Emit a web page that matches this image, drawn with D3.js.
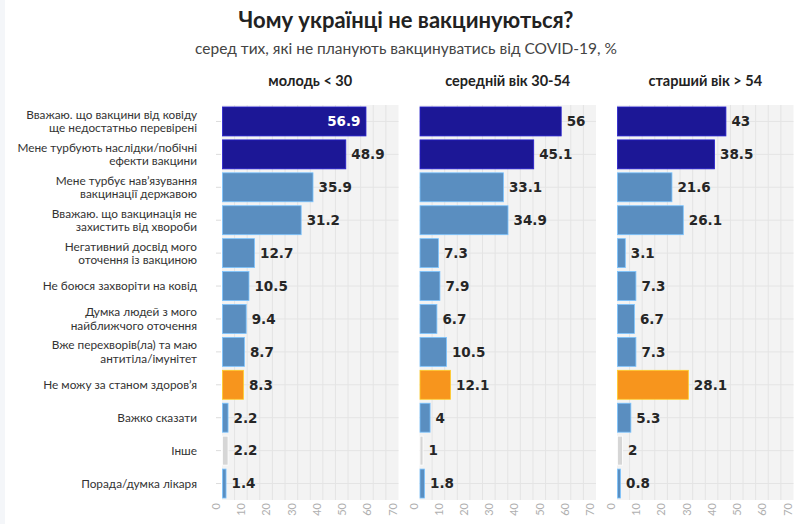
<!DOCTYPE html>
<html>
<head>
<meta charset="utf-8">
<script src="https://cdn.jsdelivr.net/npm/d3@7"></script>
<style>
  html, body { margin: 0; padding: 0; background: #ffffff; }
  svg { display: block; }
</style>
</head>
<body>
<svg id="chart" width="800" height="524"></svg>
<script>
// ---- data ----
const title = "Чому українці не вакцинуються?";
const subtitle = "серед тих, які не планують вакцинуватись від COVID-19, %";
const groups = ["молодь < 30", "середній вік 30-54", "старший вік > 54"];
const categories = [
  ["Вважаю. що вакцини від ковіду", "ще недостатньо перевірені"],
  ["Мене турбують наслідки/побічні", "ефекти вакцини"],
  ["Мене турбує нав’язування", "вакцинації державою"],
  ["Вважаю. що вакцинація не", "захистить від хвороби"],
  ["Негативний досвід мого", "оточення із вакциною"],
  ["Не боюся захворіти на ковід"],
  ["Думка людей з мого", "найближчого оточення"],
  ["Вже перехворів(ла) та маю", "антитіла/імунітет"],
  ["Не можу за станом здоров’я"],
  ["Важко сказати"],
  ["Інше"],
  ["Порада/думка лікаря"]
];
const categoryKind = ["top","top","base","base","base","base","base","base","health","base","other","base"];
const valuesYoung  = [56.9, 48.9, 35.9, 31.2, 12.7, 10.5, 9.4, 8.7, 8.3, 2.2, 2.2, 1.4];
const valuesMiddle = [56, 45.1, 33.1, 34.9, 7.3, 7.9, 6.7, 10.5, 12.1, 4, 1, 1.8];
const valuesOld    = [43, 38.5, 21.6, 26.1, 3.1, 7.3, 6.7, 7.3, 28.1, 5.3, 2, 0.8];
const xTicks = [0, 10, 20, 30, 40, 50, 60, 70];

const series = [valuesYoung, valuesMiddle, valuesOld];
const colors = { top: "#1c1796", base: "#5a8ec0", health: "#f7951d", other: "#d6d6d6" };

// ---- layout ----
const svg = d3.select("#chart");
svg.append("rect").attr("x", 0).attr("y", 0).attr("width", 5).attr("height", 524).attr("fill", "#f4f6f9");

const panelLeft = [222, 419.5, 617];
const panelW = 176.5;
const plotTop = 105, plotBottom = 500;

const x = d3.scaleLinear().domain([0, 70]).range([0, panelW]);
const y = d3.scaleBand().domain(d3.range(categories.length)).range([plotTop, plotBottom])
  .paddingInner(0.12).paddingOuter(0.06);

const sans = "Lato, 'Open Sans', sans-serif";
const numFont = "'DejaVu Sans', Verdana, sans-serif";

svg.append("text").attr("x", 406).attr("y", 28).attr("text-anchor", "middle")
  .attr("font-family", sans).attr("font-weight", 700).attr("font-size", 22)
  .attr("fill", "#222").text(title);
svg.append("text").attr("x", 406).attr("y", 54).attr("text-anchor", "middle")
  .attr("font-family", sans).attr("font-size", 15.5)
  .attr("fill", "#444").text(subtitle);

// category labels
const labelG = svg.append("g");
categories.forEach((lines, i) => {
  const cy = y(i) + y.bandwidth() / 2;
  const t = labelG.append("text").attr("x", 197).attr("text-anchor", "end")
    .attr("font-family", sans).attr("font-size", 11.8).attr("fill", "#333");
  const lh = 13.5;
  lines.forEach((ln, k) => {
    t.append("tspan").attr("x", 197)
      .attr("y", cy + (k - (lines.length - 1) / 2) * lh)
      .attr("dy", "0.35em").text(ln);
  });
  labelG.append("line").attr("x1", 216).attr("x2", 221).attr("y1", cy).attr("y2", cy)
    .attr("stroke", "#dcdcdc").attr("stroke-width", 1);
});

series.forEach((vals, p) => {
  const g = svg.append("g").attr("transform", `translate(${panelLeft[p]},0)`);
  g.append("text").attr("x", panelW / 2).attr("y", 86).attr("text-anchor", "middle")
    .attr("font-family", sans).attr("font-weight", 700).attr("font-size", 14.5)
    .attr("fill", "#222").text(groups[p]);

  g.append("rect").attr("x", 0).attr("y", plotTop).attr("width", panelW).attr("height", plotBottom - plotTop)
    .attr("fill", "#f3f3f3");

  // vertical grid every 5
  g.selectAll("line.vg").data(d3.range(5, 70, 5)).join("line").attr("class", "vg")
    .attr("x1", d => x(d)).attr("x2", d => x(d)).attr("y1", plotTop).attr("y2", plotBottom)
    .attr("stroke", "#e4e4e4").attr("stroke-width", 1);
  // horizontal grid at row centers
  g.selectAll("line.hg").data(d3.range(categories.length)).join("line").attr("class", "hg")
    .attr("x1", 0).attr("x2", panelW)
    .attr("y1", d => y(d) + y.bandwidth() / 2).attr("y2", d => y(d) + y.bandwidth() / 2)
    .attr("stroke", "#e4e4e4").attr("stroke-width", 1);

  // bars
  g.selectAll("rect.bar").data(vals).join("rect").attr("class", "bar")
    .attr("x", 0.5).attr("y", (d, i) => y(i))
    .attr("width", d => Math.max(x(d), 3)).attr("height", y.bandwidth())
    .attr("fill", (d, i) => colors[categoryKind[i]])
    .attr("stroke", (d, i) => d3.color(colors[categoryKind[i]]).brighter(0.9))
    .attr("stroke-width", 0.8);

  // value labels
  g.selectAll("text.val").data(vals).join("text").attr("class", "val")
    .attr("font-family", numFont).attr("font-weight", 700).attr("font-size", 13.5)
    .attr("y", (d, i) => y(i) + y.bandwidth() / 2).attr("dy", "0.36em")
    .text(d => String(d))
    .each(function (d) {
      const el = d3.select(this);
      const w = this.getComputedTextLength();
      const end = Math.max(x(d), 3);
      if (end + 6 + w > panelW) {
        el.attr("x", end - 5).attr("text-anchor", "end").attr("fill", "#ffffff");
      } else {
        el.attr("x", end + 6).attr("text-anchor", "start").attr("fill", "#262626");
      }
    });

  // x tick labels rotated
  g.selectAll("text.tick").data(xTicks).join("text").attr("class", "tick")
    .attr("transform", d => `translate(${x(d) - 2},503) rotate(-90)`)
    .attr("text-anchor", "end").attr("font-family", sans).attr("font-size", 11)
    .attr("fill", "#b0b0b0").text(d => d);
});
</script>
</body>
</html>
